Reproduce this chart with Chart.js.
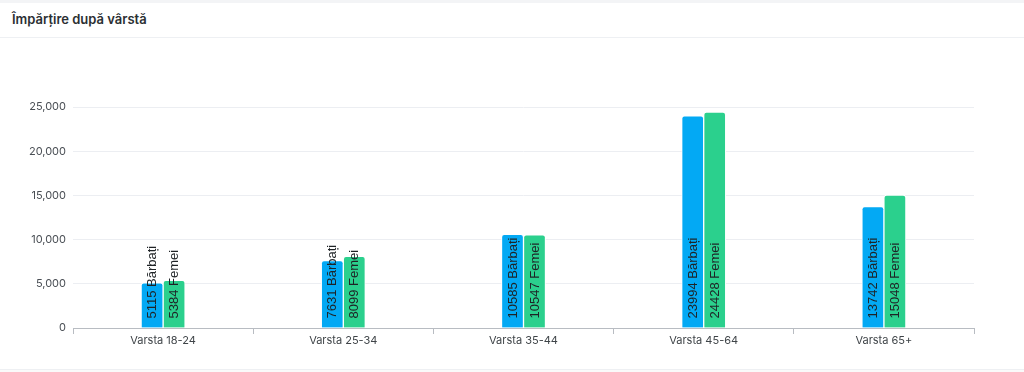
<!DOCTYPE html>
<html>
<head>
<meta charset="utf-8">
<script src="https://cdn.jsdelivr.net/npm/chart.js@4"></script>
<style>
  html, body { margin:0; padding:0; background:#fff; width:1024px; height:372px; overflow:hidden; }
  .strip { position:absolute; left:0; top:0; width:1024px; height:3px; background:#f3f4f6; }
  .header { position:absolute; left:0; top:3px; width:1024px; height:34px; border-bottom:1px solid #eef0f3; }
  .title { position:absolute; left:12px; top:8px; font-family:Inter, "Noto Sans", sans-serif; font-size:13px; font-weight:600; color:#2b2f33; }
  .wrap { position:absolute; left:0; top:38px; width:1024px; height:331px; }
  .foot { position:absolute; left:0; top:369px; width:1024px; height:3px; border-top:1px solid #eef0f3; background:#fafafa; }
</style>
</head>
<body>
<div class="strip"></div>
<div class="header"><div class="title">Împărțire după vârstă</div></div>
<div class="wrap"><canvas id="c" width="1024" height="331"></canvas></div>
<div class="foot"></div>
<script>
const categories = ["Varsta 18-24", "Varsta 25-34", "Varsta 35-44", "Varsta 45-64", "Varsta 65+"];
const seriesNames = ["Bărbați", "Femei"];
const men = [5115, 7631, 10585, 23994, 13742];
const women = [5384, 8099, 10547, 24428, 15048];
const yTicks = [0, 5000, 10000, 15000, 20000, 25000];

const labelPlugin = {
  id: 'barLabels',
  afterDatasetsDraw(chart) {
    const ctx = chart.ctx;
    chart.data.datasets.forEach((ds, di) => {
      const meta = chart.getDatasetMeta(di);
      meta.data.forEach((bar, i) => {
        ctx.save();
        ctx.translate(bar.x + 4, bar.base - 9);
        ctx.rotate(-Math.PI / 2);
        ctx.font = '13px "Liberation Sans", Arial, sans-serif';
        ctx.fillStyle = '#1f2326';
        ctx.textAlign = 'left';
        ctx.textBaseline = 'alphabetic';
        ctx.fillText(ds.data[i] + ' ' + ds.label, 0, 0);
        ctx.restore();
      });
    });
  }
};

new Chart(document.getElementById('c'), {
  type: 'bar',
  data: {
    labels: categories,
    datasets: [
      { label: seriesNames[0], data: men, backgroundColor: '#03A9F4', borderColor: '#ffffff', borderWidth: 1, borderSkipped: 'start', borderRadius: 3, barThickness: 22 },
      { label: seriesNames[1], data: women, backgroundColor: '#2BD08D', borderColor: '#ffffff', borderWidth: 1, borderSkipped: 'start', borderRadius: 3, barThickness: 22 }
    ]
  },
  options: {
    responsive: false,
    animation: false,
    layout: { padding: { top: 69, right: 50, left: 0, bottom: 0 } },
    plugins: { legend: { display: false }, tooltip: { enabled: false } },
    scales: {
      x: {
        grid: { display: true, drawOnChartArea: false, drawTicks: true, tickLength: 6, color: '#b8bcc2', offset: true },
        border: { display: true, color: '#b8bcc2', width: 1 },
        ticks: { color: '#3f4448', font: { family: 'Inter, "Noto Sans", sans-serif', size: 11 }, padding: 0, maxRotation: 0 },
        afterFit(s) { s.height = 41; }
      },
      y: {
        min: 0, max: 25000,
        afterBuildTicks(s) { s.ticks = yTicks.map(v => ({ value: v })); },
        grid: { color: '#eceef2', drawTicks: false },
        border: { display: false },
        ticks: { color: '#4a4f55', padding: 7, font: { family: 'Inter, "Noto Sans", sans-serif', size: 11 }, callback: v => v.toLocaleString('en-US') },
        afterFit(s) { s.width = 73; }
      }
    }
  },
  plugins: [labelPlugin]
});
</script>
</body>
</html>
